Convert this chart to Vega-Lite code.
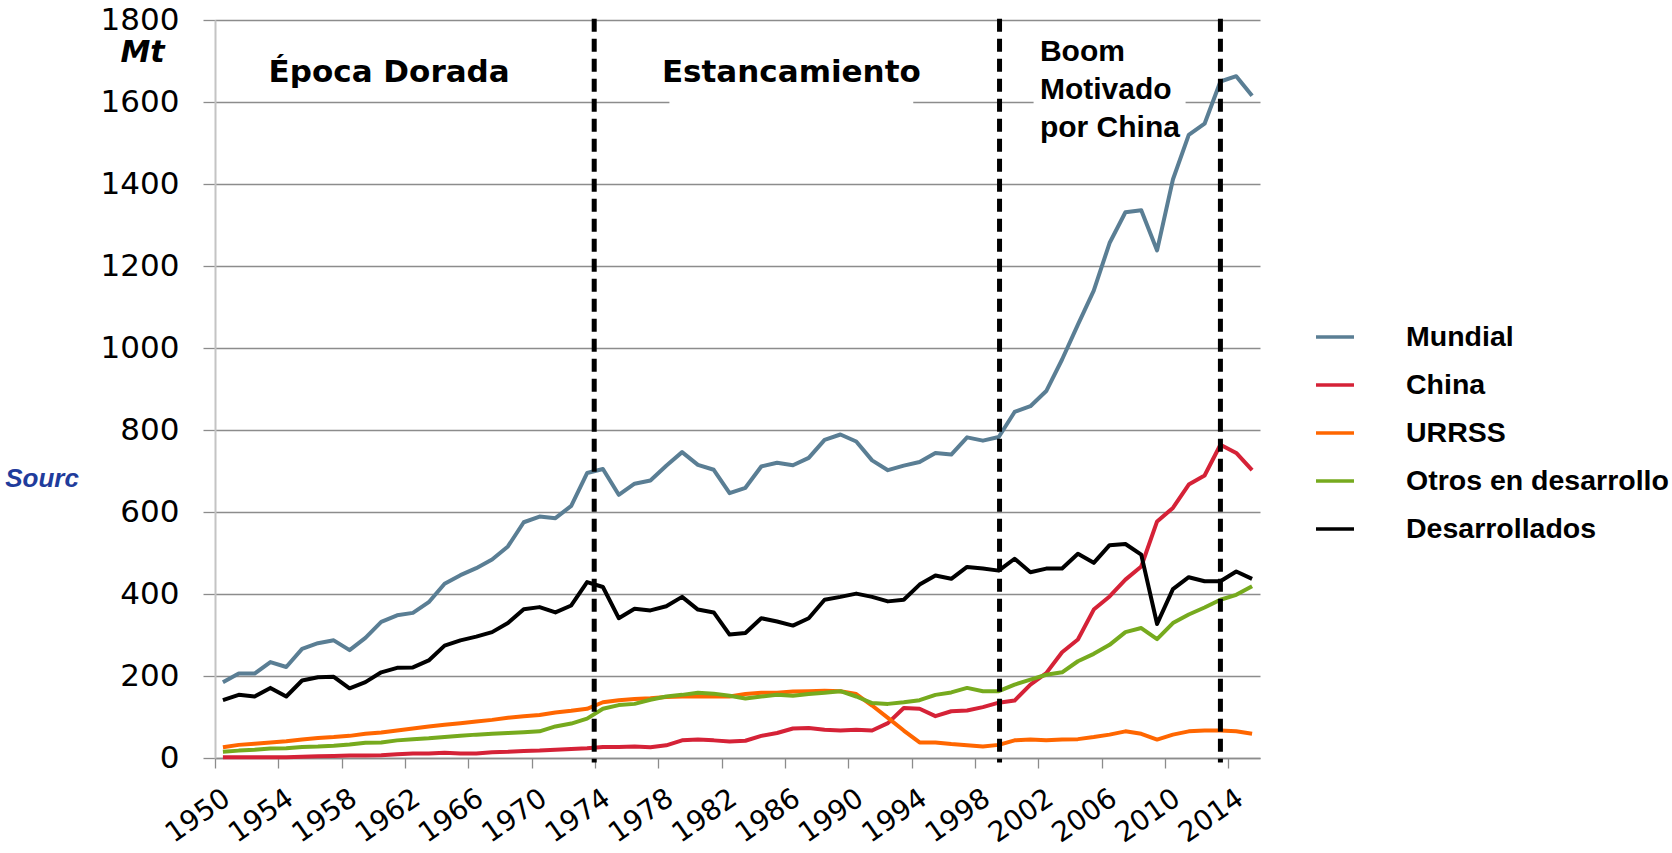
{
  "$schema": "https://vega.github.io/schema/vega-lite/v6.json",
  "width": 1045,
  "height": 738,
  "autosize": {"type": "none"},
  "padding": {"left": 215, "top": 20, "right": 412, "bottom": 95},
  "background": "white",
  "config": {
    "view": {"stroke": null},
    "font": "Liberation Sans",
    "axisX": {
      "labelAngle": -35,
      "labelAlign": "right",
      "labelBaseline": "top",
      "labelFont": "DejaVu Sans",
      "labelFontSize": 28,
      "labelColor": "black",
      "labelPadding": 16,
      "labelOverlap": false,
      "labelBound": false,
      "labelFlush": false,
      "labelOffset": 4,
      "tickSize": 10,
      "tickColor": "#8c8c8c",
      "tickWidth": 1.3,
      "domainColor": "#8c8c8c",
      "domainWidth": 1.3,
      "grid": false
    },
    "axisY": {
      "labelFont": "DejaVu Sans",
      "labelFontSize": 31,
      "labelColor": "black",
      "labelPadding": 24,
      "tickSize": 12,
      "tickColor": "#8c8c8c",
      "tickWidth": 1.3,
      "grid": true,
      "gridColor": "#8c8c8c",
      "gridWidth": 1.3,
      "domainColor": "#c4c4c4",
      "domainWidth": 2,
      "titleFont": "DejaVu Sans",
      "titleFontSize": 30,
      "titleFontStyle": "italic",
      "titleFontWeight": "bold",
      "titleColor": "black"
    }
  },
  "datasets": {
    "series": [
      {"year":1950,"serie":"Mundial","mt":185},{"year":1950,"serie":"China","mt":2},{"year":1950,"serie":"URRSS","mt":26},{"year":1950,"serie":"Otros en desarrollo","mt":15},{"year":1950,"serie":"Desarrollados","mt":141},
      {"year":1951,"serie":"Mundial","mt":206},{"year":1951,"serie":"China","mt":2},{"year":1951,"serie":"URRSS","mt":32},{"year":1951,"serie":"Otros en desarrollo","mt":18},{"year":1951,"serie":"Desarrollados","mt":154},
      {"year":1952,"serie":"Mundial","mt":206},{"year":1952,"serie":"China","mt":2},{"year":1952,"serie":"URRSS","mt":35},{"year":1952,"serie":"Otros en desarrollo","mt":20},{"year":1952,"serie":"Desarrollados","mt":150},
      {"year":1953,"serie":"Mundial","mt":234},{"year":1953,"serie":"China","mt":2},{"year":1953,"serie":"URRSS","mt":38},{"year":1953,"serie":"Otros en desarrollo","mt":23},{"year":1953,"serie":"Desarrollados","mt":171},
      {"year":1954,"serie":"Mundial","mt":222},{"year":1954,"serie":"China","mt":2},{"year":1954,"serie":"URRSS","mt":41},{"year":1954,"serie":"Otros en desarrollo","mt":24},{"year":1954,"serie":"Desarrollados","mt":150},
      {"year":1955,"serie":"Mundial","mt":266},{"year":1955,"serie":"China","mt":3},{"year":1955,"serie":"URRSS","mt":45},{"year":1955,"serie":"Otros en desarrollo","mt":27},{"year":1955,"serie":"Desarrollados","mt":189},
      {"year":1956,"serie":"Mundial","mt":280},{"year":1956,"serie":"China","mt":4},{"year":1956,"serie":"URRSS","mt":49},{"year":1956,"serie":"Otros en desarrollo","mt":28},{"year":1956,"serie":"Desarrollados","mt":197},
      {"year":1957,"serie":"Mundial","mt":287},{"year":1957,"serie":"China","mt":5},{"year":1957,"serie":"URRSS","mt":51},{"year":1957,"serie":"Otros en desarrollo","mt":30},{"year":1957,"serie":"Desarrollados","mt":198},
      {"year":1958,"serie":"Mundial","mt":263},{"year":1958,"serie":"China","mt":6},{"year":1958,"serie":"URRSS","mt":54},{"year":1958,"serie":"Otros en desarrollo","mt":33},{"year":1958,"serie":"Desarrollados","mt":170},
      {"year":1959,"serie":"Mundial","mt":293},{"year":1959,"serie":"China","mt":6},{"year":1959,"serie":"URRSS","mt":59},{"year":1959,"serie":"Otros en desarrollo","mt":37},{"year":1959,"serie":"Desarrollados","mt":185},
      {"year":1960,"serie":"Mundial","mt":332},{"year":1960,"serie":"China","mt":7},{"year":1960,"serie":"URRSS","mt":62},{"year":1960,"serie":"Otros en desarrollo","mt":38},{"year":1960,"serie":"Desarrollados","mt":209},
      {"year":1961,"serie":"Mundial","mt":348},{"year":1961,"serie":"China","mt":9},{"year":1961,"serie":"URRSS","mt":67},{"year":1961,"serie":"Otros en desarrollo","mt":43},{"year":1961,"serie":"Desarrollados","mt":220},
      {"year":1962,"serie":"Mundial","mt":354},{"year":1962,"serie":"China","mt":11},{"year":1962,"serie":"URRSS","mt":72},{"year":1962,"serie":"Otros en desarrollo","mt":46},{"year":1962,"serie":"Desarrollados","mt":221},
      {"year":1963,"serie":"Mundial","mt":380},{"year":1963,"serie":"China","mt":11},{"year":1963,"serie":"URRSS","mt":77},{"year":1963,"serie":"Otros en desarrollo","mt":48},{"year":1963,"serie":"Desarrollados","mt":238},
      {"year":1964,"serie":"Mundial","mt":425},{"year":1964,"serie":"China","mt":13},{"year":1964,"serie":"URRSS","mt":81},{"year":1964,"serie":"Otros en desarrollo","mt":51},{"year":1964,"serie":"Desarrollados","mt":274},
      {"year":1965,"serie":"Mundial","mt":446},{"year":1965,"serie":"China","mt":11},{"year":1965,"serie":"URRSS","mt":85},{"year":1965,"serie":"Otros en desarrollo","mt":54},{"year":1965,"serie":"Desarrollados","mt":287},
      {"year":1966,"serie":"Mundial","mt":463},{"year":1966,"serie":"China","mt":11},{"year":1966,"serie":"URRSS","mt":89},{"year":1966,"serie":"Otros en desarrollo","mt":57},{"year":1966,"serie":"Desarrollados","mt":296},
      {"year":1967,"serie":"Mundial","mt":484},{"year":1967,"serie":"China","mt":14},{"year":1967,"serie":"URRSS","mt":93},{"year":1967,"serie":"Otros en desarrollo","mt":59},{"year":1967,"serie":"Desarrollados","mt":307},
      {"year":1968,"serie":"Mundial","mt":516},{"year":1968,"serie":"China","mt":15},{"year":1968,"serie":"URRSS","mt":98},{"year":1968,"serie":"Otros en desarrollo","mt":61},{"year":1968,"serie":"Desarrollados","mt":329},
      {"year":1969,"serie":"Mundial","mt":575},{"year":1969,"serie":"China","mt":17},{"year":1969,"serie":"URRSS","mt":102},{"year":1969,"serie":"Otros en desarrollo","mt":63},{"year":1969,"serie":"Desarrollados","mt":363},
      {"year":1970,"serie":"Mundial","mt":589},{"year":1970,"serie":"China","mt":18},{"year":1970,"serie":"URRSS","mt":105},{"year":1970,"serie":"Otros en desarrollo","mt":65},{"year":1970,"serie":"Desarrollados","mt":368},
      {"year":1971,"serie":"Mundial","mt":585},{"year":1971,"serie":"China","mt":20},{"year":1971,"serie":"URRSS","mt":111},{"year":1971,"serie":"Otros en desarrollo","mt":77},{"year":1971,"serie":"Desarrollados","mt":355},
      {"year":1972,"serie":"Mundial","mt":615},{"year":1972,"serie":"China","mt":22},{"year":1972,"serie":"URRSS","mt":115},{"year":1972,"serie":"Otros en desarrollo","mt":84},{"year":1972,"serie":"Desarrollados","mt":372},
      {"year":1973,"serie":"Mundial","mt":695},{"year":1973,"serie":"China","mt":24},{"year":1973,"serie":"URRSS","mt":120},{"year":1973,"serie":"Otros en desarrollo","mt":96},{"year":1973,"serie":"Desarrollados","mt":429},
      {"year":1974,"serie":"Mundial","mt":705},{"year":1974,"serie":"China","mt":27},{"year":1974,"serie":"URRSS","mt":136},{"year":1974,"serie":"Otros en desarrollo","mt":120},{"year":1974,"serie":"Desarrollados","mt":417},
      {"year":1975,"serie":"Mundial","mt":642},{"year":1975,"serie":"China","mt":27},{"year":1975,"serie":"URRSS","mt":141},{"year":1975,"serie":"Otros en desarrollo","mt":129},{"year":1975,"serie":"Desarrollados","mt":341},
      {"year":1976,"serie":"Mundial","mt":669},{"year":1976,"serie":"China","mt":28},{"year":1976,"serie":"URRSS","mt":144},{"year":1976,"serie":"Otros en desarrollo","mt":132},{"year":1976,"serie":"Desarrollados","mt":364},
      {"year":1977,"serie":"Mundial","mt":677},{"year":1977,"serie":"China","mt":26},{"year":1977,"serie":"URRSS","mt":146},{"year":1977,"serie":"Otros en desarrollo","mt":142},{"year":1977,"serie":"Desarrollados","mt":360},
      {"year":1978,"serie":"Mundial","mt":713},{"year":1978,"serie":"China","mt":31},{"year":1978,"serie":"URRSS","mt":149},{"year":1978,"serie":"Otros en desarrollo","mt":150},{"year":1978,"serie":"Desarrollados","mt":370},
      {"year":1979,"serie":"Mundial","mt":746},{"year":1979,"serie":"China","mt":43},{"year":1979,"serie":"URRSS","mt":150},{"year":1979,"serie":"Otros en desarrollo","mt":154},{"year":1979,"serie":"Desarrollados","mt":393},
      {"year":1980,"serie":"Mundial","mt":715},{"year":1980,"serie":"China","mt":45},{"year":1980,"serie":"URRSS","mt":150},{"year":1980,"serie":"Otros en desarrollo","mt":159},{"year":1980,"serie":"Desarrollados","mt":362},
      {"year":1981,"serie":"Mundial","mt":703},{"year":1981,"serie":"China","mt":43},{"year":1981,"serie":"URRSS","mt":150},{"year":1981,"serie":"Otros en desarrollo","mt":157},{"year":1981,"serie":"Desarrollados","mt":355},
      {"year":1982,"serie":"Mundial","mt":646},{"year":1982,"serie":"China","mt":40},{"year":1982,"serie":"URRSS","mt":150},{"year":1982,"serie":"Otros en desarrollo","mt":152},{"year":1982,"serie":"Desarrollados","mt":301},
      {"year":1983,"serie":"Mundial","mt":659},{"year":1983,"serie":"China","mt":42},{"year":1983,"serie":"URRSS","mt":156},{"year":1983,"serie":"Otros en desarrollo","mt":145},{"year":1983,"serie":"Desarrollados","mt":305},
      {"year":1984,"serie":"Mundial","mt":711},{"year":1984,"serie":"China","mt":54},{"year":1984,"serie":"URRSS","mt":159},{"year":1984,"serie":"Otros en desarrollo","mt":150},{"year":1984,"serie":"Desarrollados","mt":341},
      {"year":1985,"serie":"Mundial","mt":720},{"year":1985,"serie":"China","mt":61},{"year":1985,"serie":"URRSS","mt":159},{"year":1985,"serie":"Otros en desarrollo","mt":154},{"year":1985,"serie":"Desarrollados","mt":333},
      {"year":1986,"serie":"Mundial","mt":714},{"year":1986,"serie":"China","mt":72},{"year":1986,"serie":"URRSS","mt":162},{"year":1986,"serie":"Otros en desarrollo","mt":152},{"year":1986,"serie":"Desarrollados","mt":323},
      {"year":1987,"serie":"Mundial","mt":732},{"year":1987,"serie":"China","mt":73},{"year":1987,"serie":"URRSS","mt":163},{"year":1987,"serie":"Otros en desarrollo","mt":156},{"year":1987,"serie":"Desarrollados","mt":341},
      {"year":1988,"serie":"Mundial","mt":776},{"year":1988,"serie":"China","mt":69},{"year":1988,"serie":"URRSS","mt":164},{"year":1988,"serie":"Otros en desarrollo","mt":159},{"year":1988,"serie":"Desarrollados","mt":386},
      {"year":1989,"serie":"Mundial","mt":789},{"year":1989,"serie":"China","mt":67},{"year":1989,"serie":"URRSS","mt":163},{"year":1989,"serie":"Otros en desarrollo","mt":163},{"year":1989,"serie":"Desarrollados","mt":393},
      {"year":1990,"serie":"Mundial","mt":772},{"year":1990,"serie":"China","mt":69},{"year":1990,"serie":"URRSS","mt":156},{"year":1990,"serie":"Otros en desarrollo","mt":150},{"year":1990,"serie":"Desarrollados","mt":401},
      {"year":1991,"serie":"Mundial","mt":726},{"year":1991,"serie":"China","mt":67},{"year":1991,"serie":"URRSS","mt":128},{"year":1991,"serie":"Otros en desarrollo","mt":134},{"year":1991,"serie":"Desarrollados","mt":393},
      {"year":1992,"serie":"Mundial","mt":702},{"year":1992,"serie":"China","mt":85},{"year":1992,"serie":"URRSS","mt":98},{"year":1992,"serie":"Otros en desarrollo","mt":132},{"year":1992,"serie":"Desarrollados","mt":382},
      {"year":1993,"serie":"Mundial","mt":713},{"year":1993,"serie":"China","mt":122},{"year":1993,"serie":"URRSS","mt":67},{"year":1993,"serie":"Otros en desarrollo","mt":136},{"year":1993,"serie":"Desarrollados","mt":386},
      {"year":1994,"serie":"Mundial","mt":722},{"year":1994,"serie":"China","mt":120},{"year":1994,"serie":"URRSS","mt":38},{"year":1994,"serie":"Otros en desarrollo","mt":141},{"year":1994,"serie":"Desarrollados","mt":423},
      {"year":1995,"serie":"Mundial","mt":744},{"year":1995,"serie":"China","mt":102},{"year":1995,"serie":"URRSS","mt":38},{"year":1995,"serie":"Otros en desarrollo","mt":154},{"year":1995,"serie":"Desarrollados","mt":445},
      {"year":1996,"serie":"Mundial","mt":740},{"year":1996,"serie":"China","mt":114},{"year":1996,"serie":"URRSS","mt":34},{"year":1996,"serie":"Otros en desarrollo","mt":160},{"year":1996,"serie":"Desarrollados","mt":437},
      {"year":1997,"serie":"Mundial","mt":782},{"year":1997,"serie":"China","mt":116},{"year":1997,"serie":"URRSS","mt":31},{"year":1997,"serie":"Otros en desarrollo","mt":171},{"year":1997,"serie":"Desarrollados","mt":466},
      {"year":1998,"serie":"Mundial","mt":774},{"year":1998,"serie":"China","mt":124},{"year":1998,"serie":"URRSS","mt":28},{"year":1998,"serie":"Otros en desarrollo","mt":163},{"year":1998,"serie":"Desarrollados","mt":462},
      {"year":1999,"serie":"Mundial","mt":783},{"year":1999,"serie":"China","mt":135},{"year":1999,"serie":"URRSS","mt":32},{"year":1999,"serie":"Otros en desarrollo","mt":163},{"year":1999,"serie":"Desarrollados","mt":457},
      {"year":2000,"serie":"Mundial","mt":844},{"year":2000,"serie":"China","mt":140},{"year":2000,"serie":"URRSS","mt":43},{"year":2000,"serie":"Otros en desarrollo","mt":179},{"year":2000,"serie":"Desarrollados","mt":486},
      {"year":2001,"serie":"Mundial","mt":858},{"year":2001,"serie":"China","mt":179},{"year":2001,"serie":"URRSS","mt":45},{"year":2001,"serie":"Otros en desarrollo","mt":191},{"year":2001,"serie":"Desarrollados","mt":453},
      {"year":2002,"serie":"Mundial","mt":895},{"year":2002,"serie":"China","mt":207},{"year":2002,"serie":"URRSS","mt":43},{"year":2002,"serie":"Otros en desarrollo","mt":203},{"year":2002,"serie":"Desarrollados","mt":462},
      {"year":2003,"serie":"Mundial","mt":972},{"year":2003,"serie":"China","mt":258},{"year":2003,"serie":"URRSS","mt":45},{"year":2003,"serie":"Otros en desarrollo","mt":209},{"year":2003,"serie":"Desarrollados","mt":462},
      {"year":2004,"serie":"Mundial","mt":1057},{"year":2004,"serie":"China","mt":289},{"year":2004,"serie":"URRSS","mt":46},{"year":2004,"serie":"Otros en desarrollo","mt":236},{"year":2004,"serie":"Desarrollados","mt":498},
      {"year":2005,"serie":"Mundial","mt":1140},{"year":2005,"serie":"China","mt":362},{"year":2005,"serie":"URRSS","mt":51},{"year":2005,"serie":"Otros en desarrollo","mt":254},{"year":2005,"serie":"Desarrollados","mt":476},
      {"year":2006,"serie":"Mundial","mt":1256},{"year":2006,"serie":"China","mt":394},{"year":2006,"serie":"URRSS","mt":57},{"year":2006,"serie":"Otros en desarrollo","mt":276},{"year":2006,"serie":"Desarrollados","mt":519},
      {"year":2007,"serie":"Mundial","mt":1331},{"year":2007,"serie":"China","mt":435},{"year":2007,"serie":"URRSS","mt":65},{"year":2007,"serie":"Otros en desarrollo","mt":307},{"year":2007,"serie":"Desarrollados","mt":522},
      {"year":2008,"serie":"Mundial","mt":1336},{"year":2008,"serie":"China","mt":467},{"year":2008,"serie":"URRSS","mt":59},{"year":2008,"serie":"Otros en desarrollo","mt":317},{"year":2008,"serie":"Desarrollados","mt":496},
      {"year":2009,"serie":"Mundial","mt":1238},{"year":2009,"serie":"China","mt":577},{"year":2009,"serie":"URRSS","mt":45},{"year":2009,"serie":"Otros en desarrollo","mt":290},{"year":2009,"serie":"Desarrollados","mt":327},
      {"year":2010,"serie":"Mundial","mt":1411},{"year":2010,"serie":"China","mt":610},{"year":2010,"serie":"URRSS","mt":57},{"year":2010,"serie":"Otros en desarrollo","mt":329},{"year":2010,"serie":"Desarrollados","mt":412},
      {"year":2011,"serie":"Mundial","mt":1520},{"year":2011,"serie":"China","mt":667},{"year":2011,"serie":"URRSS","mt":65},{"year":2011,"serie":"Otros en desarrollo","mt":350},{"year":2011,"serie":"Desarrollados","mt":441},
      {"year":2012,"serie":"Mundial","mt":1547},{"year":2012,"serie":"China","mt":689},{"year":2012,"serie":"URRSS","mt":67},{"year":2012,"serie":"Otros en desarrollo","mt":367},{"year":2012,"serie":"Desarrollados","mt":431},
      {"year":2013,"serie":"Mundial","mt":1650},{"year":2013,"serie":"China","mt":764},{"year":2013,"serie":"URRSS","mt":67},{"year":2013,"serie":"Otros en desarrollo","mt":386},{"year":2013,"serie":"Desarrollados","mt":431},
      {"year":2014,"serie":"Mundial","mt":1663},{"year":2014,"serie":"China","mt":744},{"year":2014,"serie":"URRSS","mt":65},{"year":2014,"serie":"Otros en desarrollo","mt":398},{"year":2014,"serie":"Desarrollados","mt":455},
      {"year":2015,"serie":"Mundial","mt":1615},{"year":2015,"serie":"China","mt":702},{"year":2015,"serie":"URRSS","mt":59},{"year":2015,"serie":"Otros en desarrollo","mt":419},{"year":2015,"serie":"Desarrollados","mt":437}
    ],
    "boxes": [
      {"x1": 1978.2, "x2": 1993.6, "y1": 1560, "y2": 1745},
      {"x1": 2001.2, "x2": 2010.8, "y1": 1560, "y2": 1745}
    ],
    "periods": [{"x": 1973.45}, {"x": 1999.05}, {"x": 2013.0}],
    "labels": [
      {"x": 1960.5, "y": 1650, "text": "Época Dorada"},
      {"x": 1985.9, "y": 1650, "text": "Estancamiento"}
    ],
    "boom": [{"x": 2001.6, "y": 1699, "text": "Boom\nMotivado\npor China"}],
    "source": [{"x": 1936.25, "y": 662, "text": "Sourc"}]
  },
  "layer": [
    {
      "data": {"name": "boxes"},
      "mark": {"type": "rect", "color": "white"},
      "encoding": {
        "x": {
          "field": "x1", "type": "quantitative",
          "scale": {"domain": [1949.5, 2015.5], "nice": false, "zero": false},
          "axis": {
            "title": null,
            "values": [1949.5,1950.5,1951.5,1952.5,1953.5,1954.5,1955.5,1956.5,1957.5,1958.5,1959.5,1960.5,1961.5,1962.5,1963.5,1964.5,1965.5,1966.5,1967.5,1968.5,1969.5,1970.5,1971.5,1972.5,1973.5,1974.5,1975.5,1976.5,1977.5,1978.5,1979.5,1980.5,1981.5,1982.5,1983.5,1984.5,1985.5,1986.5,1987.5,1988.5,1989.5,1990.5,1991.5,1992.5,1993.5,1994.5,1995.5,1996.5,1997.5,1998.5,1999.5,2000.5,2001.5,2002.5,2003.5,2004.5,2005.5,2006.5,2007.5,2008.5,2009.5,2010.5,2011.5,2012.5,2013.5,2014.5,2015.5],
            "labelExpr": "((datum.value + 0.5 - 1950) % 4 == 0 && datum.value < 2015) ? toString(datum.value + 0.5) : ''",
            "labelFontSize": 28,
            "labelAngle": -35
          }
        },
        "x2": {"field": "x2"},
        "y": {
          "field": "y1", "type": "quantitative",
          "scale": {"domain": [0, 1800], "nice": false},
          "axis": {
            "title": "Mt",
            "titleAngle": 0,
            "titleX": -73,
            "titleY": 41,
            "titleAlign": "center",
            "titleBaseline": "alphabetic",
            "values": [0,200,400,600,800,1000,1200,1400,1600,1800],
            "format": "d",
            "labelFontSize": 31
          }
        },
        "y2": {"field": "y2"}
      }
    },
    {
      "data": {"name": "series"},
      "mark": {"type": "line", "strokeWidth": 4, "strokeJoin": "round"},
      "encoding": {
        "x": {"field": "year", "type": "quantitative"},
        "y": {"field": "mt", "type": "quantitative"},
        "color": {
          "field": "serie", "type": "nominal",
          "scale": {
            "domain": ["Mundial", "China", "URRSS", "Otros en desarrollo", "Desarrollados"],
            "range": ["#5a7e94", "#d52237", "#ff6600", "#76aa1e", "#000000"]
          },
          "legend": {
            "title": null,
            "orient": "none",
            "legendX": 1099,
            "legendY": 296,
            "padding": 0,
            "symbolType": "stroke",
            "symbolSize": 1444,
            "symbolStrokeWidth": 3.5,
            "labelFont": "Liberation Sans",
            "labelFontSize": 28.5,
            "labelFontWeight": "bold",
            "labelColor": "black",
            "labelOffset": 50,
            "labelLimit": 500,
            "rowPadding": 12
          }
        }
      }
    },
    {
      "data": {"name": "periods"},
      "mark": {"type": "rule", "color": "black", "strokeWidth": 5, "strokeDash": [13, 7]},
      "encoding": {
        "x": {"field": "x", "type": "quantitative"},
        "y": {"datum": 1803},
        "y2": {"datum": -11}
      }
    },
    {
      "data": {"name": "labels"},
      "mark": {"type": "text", "font": "DejaVu Sans", "fontSize": 31, "fontWeight": "bold", "align": "center", "baseline": "alphabetic", "color": "black"},
      "encoding": {
        "x": {"field": "x", "type": "quantitative"},
        "y": {"field": "y", "type": "quantitative"},
        "text": {"field": "text"}
      }
    },
    {
      "data": {"name": "boom"},
      "mark": {"type": "text", "font": "Liberation Sans", "fontSize": 30, "fontWeight": "bold", "align": "left", "baseline": "alphabetic", "lineBreak": "\n", "lineHeight": 38, "color": "black"},
      "encoding": {
        "x": {"field": "x", "type": "quantitative"},
        "y": {"field": "y", "type": "quantitative"},
        "text": {"field": "text"}
      }
    },
    {
      "data": {"name": "source"},
      "mark": {"type": "text", "font": "Liberation Sans", "fontSize": 26, "fontWeight": "bold", "fontStyle": "italic", "align": "left", "baseline": "alphabetic", "color": "#1f3c9c"},
      "encoding": {
        "x": {"field": "x", "type": "quantitative"},
        "y": {"field": "y", "type": "quantitative"},
        "text": {"field": "text"}
      }
    }
  ]
}
